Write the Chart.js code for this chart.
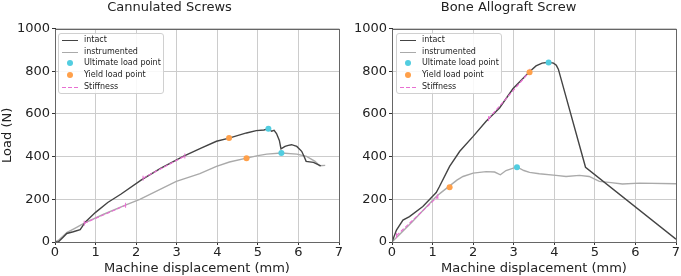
<!DOCTYPE html>
<html><head><meta charset="utf-8">
<script src="https://cdn.jsdelivr.net/npm/chart.js@4.4.1/dist/chart.umd.min.js"></script>
<style>
html,body{margin:0;padding:0;background:#fff;}
#wrap{position:relative;width:681px;height:276px;overflow:hidden;font-family:"DejaVu Sans",sans-serif;}
canvas{position:absolute;top:0;}
.leg{position:absolute;width:106px;height:61px;border:1px solid #d0d0d0;border-radius:3px;background:rgba(255,255,255,0.85);box-sizing:border-box;font:8px "DejaVu Sans",sans-serif;color:#222;}
.row{position:absolute;left:0;height:10px;line-height:10px;}
.row span{position:absolute;left:25px;top:0;white-space:nowrap;}
.ln{position:absolute;left:3px;width:16px;top:5px;}
.dot{position:absolute;left:8px;top:2px;width:6px;height:6px;border-radius:50%;}
</style></head>
<body><div id="wrap">
<canvas id="c1" width="345" height="276" style="left:0;width:345px;height:276px"></canvas>
<canvas id="c2" width="341" height="276" style="left:340px;width:341px;height:276px"></canvas>
</div>
<script>
// ---- Data: Cannulated Screws ----
const csIntactX = [0, 0.08, 0.2, 0.29, 0.45, 0.62, 0.75, 1.0, 1.3, 1.63, 2.13, 2.6, 3.16, 3.6, 3.98, 4.29, 4.72, 4.96, 5.15, 5.26, 5.34, 5.40, 5.46, 5.53, 5.57, 5.67, 5.75, 5.83, 5.96, 6.08, 6.14, 6.19, 6.37, 6.55];
const csIntactY = [0, 0, 22, 40, 48, 58, 94, 139, 185, 225, 291, 345, 401, 440, 472, 487, 511, 522, 525, 531, 519, 523, 508, 476, 436, 448, 453, 456, 448, 425, 401, 378, 373, 357];
const csInstrX = [0, 0.1, 0.3, 0.5, 0.72, 1.2, 1.72, 2.09, 2.99, 3.57, 3.98, 4.3, 4.72, 5.0, 5.22, 5.58, 5.96, 6.2, 6.41, 6.52, 6.66];
const csInstrY = [0, 10, 45, 65, 88, 130, 172, 200, 284, 320, 354, 375, 393, 405, 412, 417, 412, 401, 378, 357, 359];
const csStiffIntactX = [2.17, 3.2], csStiffIntactY = [299, 403];
const csStiffInstrX = [0.72, 1.74], csStiffInstrY = [88, 172];
const csUltX = [5.26, 5.58], csUltY = [531, 417];
const csYieldX = [4.29, 4.72], csYieldY = [487, 393];

// ---- Data: Bone Allograft Screw ----
const baIntactX = [0, 0.11, 0.27, 0.43, 0.76, 1.09, 1.17, 1.42, 1.67, 2.0, 2.32, 2.65, 2.98, 3.39, 3.55, 3.7, 3.86, 3.98, 4.05, 4.10, 4.77, 7.0];
const baIntactY = [0, 56, 103, 119, 166, 232, 260, 354, 425, 495, 566, 628, 718, 798, 825, 838, 842, 838, 828, 810, 350, 13];
const baInstrX = [0, 0.5, 1.09, 1.2, 1.42, 1.6, 1.75, 2.0, 2.32, 2.53, 2.67, 2.81, 3.08, 3.25, 3.39, 3.63, 4.04, 4.29, 4.62, 4.86, 5.11, 5.4, 5.68, 6.1, 7.0];
const baInstrY = [0, 95, 213, 230, 263, 290, 307, 323, 330, 328, 315, 335, 352, 335, 326, 320, 312, 307, 312, 307, 284, 278, 272, 276, 273];
const baStiffIntactX = [2.38, 3.40], baStiffIntactY = [578, 800];
const baStiffInstrX = [0.11, 1.13], baStiffInstrY = [30, 213];
const baUltX = [3.86, 3.08], baUltY = [841, 350];
const baYieldX = [3.39, 1.42], baYieldY = [795, 257];

const xTicks = [0, 1, 2, 3, 4, 5, 6, 7];
const yTicks = [0, 200, 400, 600, 800, 1000];
const legendLabels = ["intact", "instrumented", "Ultimate load point", "Yield load point", "Stiffness"];

const C_INTACT = '#444444', C_INSTR = '#aaaaaa', C_ULT = '#52cde0', C_YIELD = '#ffa04a', C_STIFF = '#e86fd2';
const FONT = '"DejaVu Sans", sans-serif';
const pts = (xs, ys) => xs.map((x, i) => ({x, y: ys[i]}));

const framePlugin = {
  id: 'frame',
  afterDatasetsDraw(chart) {
    const a = chart.chartArea, ctx = chart.ctx;
    ctx.save();
    ctx.strokeStyle = '#666';
    ctx.lineWidth = 1;
    ctx.strokeRect(Math.round(a.left) + 0.5, Math.round(a.top) + 0.5, Math.round(a.right - a.left), Math.round(a.bottom - a.top));
    ctx.restore();
  }
};

function makeChart(id, title, d, yTitle, leftW, padRight) {
  const ds = [
    {label: 'Ultimate', data: pts(d.ultX, d.ultY), showLine: false, pointRadius: 3, pointBackgroundColor: C_ULT, pointBorderWidth: 0, order: 0},
    {label: 'Yield', data: pts(d.yX, d.yY), showLine: false, pointRadius: 3, pointBackgroundColor: C_YIELD, pointBorderWidth: 0, order: 0},
    {label: 'StiffI', data: pts(d.sIX, d.sIY), showLine: true, borderColor: C_STIFF, borderWidth: 1.2, borderDash: [4, 2], pointStyle: 'line', pointRotation: 90, pointRadius: 2.5, pointBorderColor: C_STIFF, pointBorderWidth: 1, order: 1},
    {label: 'StiffN', data: pts(d.sNX, d.sNY), showLine: true, borderColor: C_STIFF, borderWidth: 1.2, borderDash: [4, 2], pointStyle: 'line', pointRotation: 90, pointRadius: 2.5, pointBorderColor: C_STIFF, pointBorderWidth: 1, order: 1},
    {label: 'intact', data: pts(d.iX, d.iY), showLine: true, borderColor: C_INTACT, borderWidth: 1.4, pointRadius: 0, tension: 0, order: 3},
    {label: 'instrumented', data: pts(d.nX, d.nY), showLine: true, borderColor: C_INSTR, borderWidth: 1.4, pointRadius: 0, tension: 0, order: 4}
  ];
  return new Chart(document.getElementById(id), {
    type: 'scatter',
    data: {datasets: ds},
    plugins: [framePlugin],
    options: {
      responsive: false, animation: false, devicePixelRatio: 1,
      layout: {padding: {left: 0, right: padRight, top: 0, bottom: 0}},
      plugins: {
        legend: {display: false}, tooltip: {enabled: false},
        title: {display: true, text: title, color: '#222', font: {family: FONT, size: 13, weight: 'normal'}, padding: {top: 0, bottom: 13}}
      },
      scales: {
        x: {
          type: 'linear', min: 0, max: 7,
          afterBuildTicks: s => { s.ticks = xTicks.map(v => ({value: v})); },
          afterFit: s => { s.height = 34; },
          ticks: {color: '#222', font: {family: FONT, size: 13}, padding: 0, maxRotation: 0, callback: v => String(v)},
          grid: {color: '#cccccc', lineWidth: 1, tickLength: 3, tickColor: '#333'},
          border: {color: '#333', width: 1},
          title: {display: true, text: 'Machine displacement (mm)', color: '#222', font: {family: FONT, size: 13}, padding: {top: 0, bottom: 0}}
        },
        y: {
          type: 'linear', min: 0, max: 1000,
          afterBuildTicks: s => { s.ticks = yTicks.map(v => ({value: v})); },
          afterFit: s => { s.width = leftW; },
          ticks: {color: '#222', font: {family: FONT, size: 13}, padding: 2, callback: v => String(v)},
          grid: {color: '#cccccc', lineWidth: 1, tickLength: 3, tickColor: '#333'},
          border: {color: '#333', width: 1},
          title: {display: !!yTitle, text: yTitle, color: '#222', font: {family: FONT, size: 13}, padding: {top: 0, bottom: 0}}
        }
      }
    }
  });
}

makeChart('c1', 'Cannulated Screws', {
  iX: csIntactX, iY: csIntactY, nX: csInstrX, nY: csInstrY,
  sIX: csStiffIntactX, sIY: csStiffIntactY, sNX: csStiffInstrX, sNY: csStiffInstrY,
  ultX: csUltX, ultY: csUltY, yX: csYieldX, yY: csYieldY
}, 'Load (N)', 55, 6);

makeChart('c2', 'Bone Allograft Screw', {
  iX: baIntactX, iY: baIntactY, nX: baInstrX, nY: baInstrY,
  sIX: baStiffIntactX, sIY: baStiffIntactY, sNX: baStiffInstrX, sNY: baStiffInstrY,
  ultX: baUltX, ultY: baUltY, yX: baYieldX, yY: baYieldY
}, '', 52, 4);

function makeLegend(left, top) {
  const box = document.createElement('div');
  box.className = 'leg';
  box.style.left = left + 'px';
  box.style.top = top + 'px';
  const samples = [
    '<div class="ln" style="border-top:1.5px solid ' + C_INTACT + '"></div>',
    '<div class="ln" style="border-top:1px solid ' + C_INSTR + '"></div>',
    '<div class="dot" style="background:' + C_ULT + '"></div>',
    '<div class="dot" style="background:' + C_YIELD + '"></div>',
    '<div class="ln" style="height:1px;background:repeating-linear-gradient(to right,' + C_STIFF + ' 0 4px,transparent 4px 6px)"></div>'
  ];
  legendLabels.forEach((lab, i) => {
    const r = document.createElement('div');
    r.className = 'row';
    r.style.top = (1 + i * 11.7) + 'px';
    r.style.width = '100%';
    r.innerHTML = samples[i] + '<span>' + lab + '</span>';
    box.appendChild(r);
  });
  document.getElementById('wrap').appendChild(box);
}
makeLegend(58, 33);
makeLegend(396, 33);
</script>
</body></html>
